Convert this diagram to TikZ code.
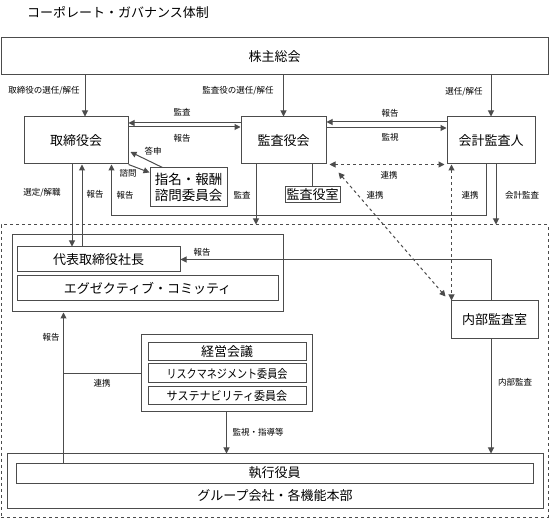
\documentclass[tikz,border=0pt]{standalone}
\usepackage{fontspec}
\usepackage{graphicx}
\setmainfont{Noto Sans CJK JP}
\usetikzlibrary{arrows.meta}

\begin{document}
\begin{tikzpicture}[
			x=1pt, y=-1pt,
			box/.style={draw=black!70, line width=1pt, inner sep=0pt, font=\fontsize{13}{15}\selectfont},
			lbl/.style={inner sep=0pt, font=\fontsize{8.5}{9}\selectfont},
			arr/.style={draw=black!70, line width=1pt, -{Triangle[length=6pt,width=6pt]}},
			darr/.style={arr, dashed, {Triangle[length=6pt,width=6pt]}-{Triangle[length=6pt,width=6pt]}}
			]
			\useasboundingbox (0,0) rectangle (549,518);
			\node[anchor=west, inner sep=0pt, font=\fontsize{13}{15}\selectfont] (title) at (27,12) {コーポレート・ガバナンス体制};
			\node[box, dashed, minimum width=547pt, minimum height=292pt] (area) at (274.5,371) {};
			\node[box, minimum width=547pt, minimum height=37pt] (kabu) at (274.5,56.5) {株主総会};
			\node[box, minimum width=104pt, minimum height=47pt] (tori) at (76,140.5) {取締役会};
			\node[box, minimum width=85pt, minimum height=47pt] (kansa) at (283.5,140.5) {監査役会};
			\node[box, minimum width=88pt, minimum height=47pt] (kaikei) at (491,140.5) {会計監査人};
			\node[box, minimum width=77pt, minimum height=39pt, align=center, font=\fontsize{13.5}{15.5}\selectfont] (shimei) at (188.5,187.5) {指名・報酬\\諮問委員会};
			\node[box, minimum width=55pt, minimum height=16pt] (kansashitsu) at (312.5,195) {監査役室};
			\node[box, minimum width=271pt, minimum height=77pt] (exec) at (147.5,273.5) {};
			\node[box, minimum width=163pt, minimum height=25pt] (shacho) at (98.5,259.5) {代表取締役社長};
			\node[box, minimum width=261pt, minimum height=25pt] (excomm) at (147.5,288.5) {エグゼクティブ・コミッティ};
			\node[box, minimum width=87pt, minimum height=38pt] (naibu) at (494.5,320) {内部監査室};
			\node[box, minimum width=171pt, minimum height=77pt] (comm) at (226.5,373.5) {};
			\node[box, minimum width=158pt, minimum height=18pt] (keiei) at (227,352) {経営会議};
			\node[box, minimum width=158pt, minimum height=19pt, font=\fontsize{12}{13}\selectfont] (risk) at (227,373.5) {\scalebox{0.84}[1]{リスクマネジメント委員会}};
			\node[box, minimum width=158pt, minimum height=18pt, font=\fontsize{12}{13}\selectfont] (sustain) at (227,396) {\scalebox{0.92}[1]{サステナビリティ委員会}};
			\node[box, minimum width=536pt, minimum height=54pt] (bottom) at (275,481) {};
			\node[box, minimum width=517pt, minimum height=20pt] (shikko) at (274.5,473) {執行役員};
			\node[inner sep=0pt, font=\fontsize{13}{15}\selectfont] (group) at (275,496) {グループ会社・各機能本部};

			\draw[arr] ([xshift=9pt]tori.north |- kabu.south) -- ([xshift=9pt]tori.north);
			\draw[arr] (kansa.north |- kabu.south) -- (kansa.north);
			\draw[arr] (kaikei.north |- kabu.south) -- (kaikei.north);
			\draw[arr] ([yshift=17.5pt]kansa.west) -- ([yshift=17.5pt]tori.east);
			\draw[arr] ([yshift=13.5pt]tori.east) -- ([yshift=13.5pt]kansa.west);
			\draw[arr] ([yshift=18.5pt]kaikei.west) -- ([yshift=18.5pt]kansa.east);
			\draw[arr] ([yshift=12.5pt]kansa.east) -- ([yshift=12.5pt]kaikei.west);
			\draw[darr] ([xshift=3pt]kansa.south east) -- ([xshift=-2pt]kaikei.south west);
			\draw[darr] ([shift={(12,8)}]kansa.south east) -- ([shift={(-5,-4)}]naibu.north west);
			\draw[darr] ([xshift=5pt]kaikei.south west) -- ([xshift=5pt]kaikei.south west |- naibu.north);
			\draw[arr] ([xshift=-5pt]kaikei.south) |- ([shift={(-17,51)}]tori.south east) -- ([xshift=-17pt]tori.south east);
			\draw[arr] ([xshift=5pt]kaikei.south) -- ([xshift=5pt]kaikei.south |- area.north);
			\draw[arr] ([xshift=-27.5pt]kansa.south) -- ([xshift=-27.5pt]kansa.south |- area.north);
			\draw[draw=black!70, line width=1pt] (kansashitsu.north |- kansa.south) -- (kansashitsu.north);
			\draw[arr] ([xshift=13pt]shimei.north west) -- ([shift={(2,11.5)}]tori.east);
			\draw[arr] (tori.south east) -- ([yshift=-5pt]shimei.north west);
			\draw[arr] ([xshift=-4pt]tori.south) -- ([xshift=-4pt]tori.south |- shacho.north);
			\draw[arr] ([xshift=6pt]tori.south |- shacho.north) -- ([xshift=6pt]tori.south);
			\draw[arr] ([xshift=-3.5pt]naibu.north) |- (shacho.east);
			\draw[arr] ([xshift=-3.5pt]naibu.south) -- ([xshift=-3.5pt]naibu.south |- bottom.north);
			\draw[arr] (comm.south) -- (comm.south |- bottom.north);
			\draw[arr] ([xshift=52pt]exec.south west |- shikko.north) -- ([xshift=52pt]exec.south west);
			\draw[draw=black!70, line width=1pt] (comm.west) -- ([xshift=52pt]exec.south west |- comm.west);

			\node[lbl] (l1) at (44,91) {取締役の選任/解任};
			\node[lbl] (l2) at (238,91) {監査役の選任/解任};
			\node[lbl] (l3) at (464,92) {選任/解任};
			\node[lbl] (l4) at (182,112) {監査};
			\node[lbl] (l5) at (182,138) {報告};
			\node[lbl] (l6) at (390,113) {報告};
			\node[lbl] (l7) at (390,137) {監視};
			\node[lbl] (l8) at (389,175) {連携};
			\node[lbl] (l9) at (375,195) {連携};
			\node[lbl] (l10) at (470,195) {連携};
			\node[lbl] (l11) at (522,195) {会計監査};
			\node[lbl] (l12) at (242,195) {監査};
			\node[lbl] (l13) at (153,151) {答申};
			\node[lbl] (l14) at (128,173) {諮問};
			\node[lbl] (l15) at (42,193) {選定/解職};
			\node[lbl] (l16) at (95,194) {報告};
			\node[lbl] (l17) at (125,195) {報告};
			\node[lbl] (l18) at (202,252) {報告};
			\node[lbl] (l19) at (515,382) {内部監査};
			\node[lbl] (l20) at (258,432) {監視・指導等};
			\node[lbl] (l21) at (51,337) {報告};
			\node[lbl] (l22) at (102,383) {連携};
		\end{tikzpicture}
\end{document}
